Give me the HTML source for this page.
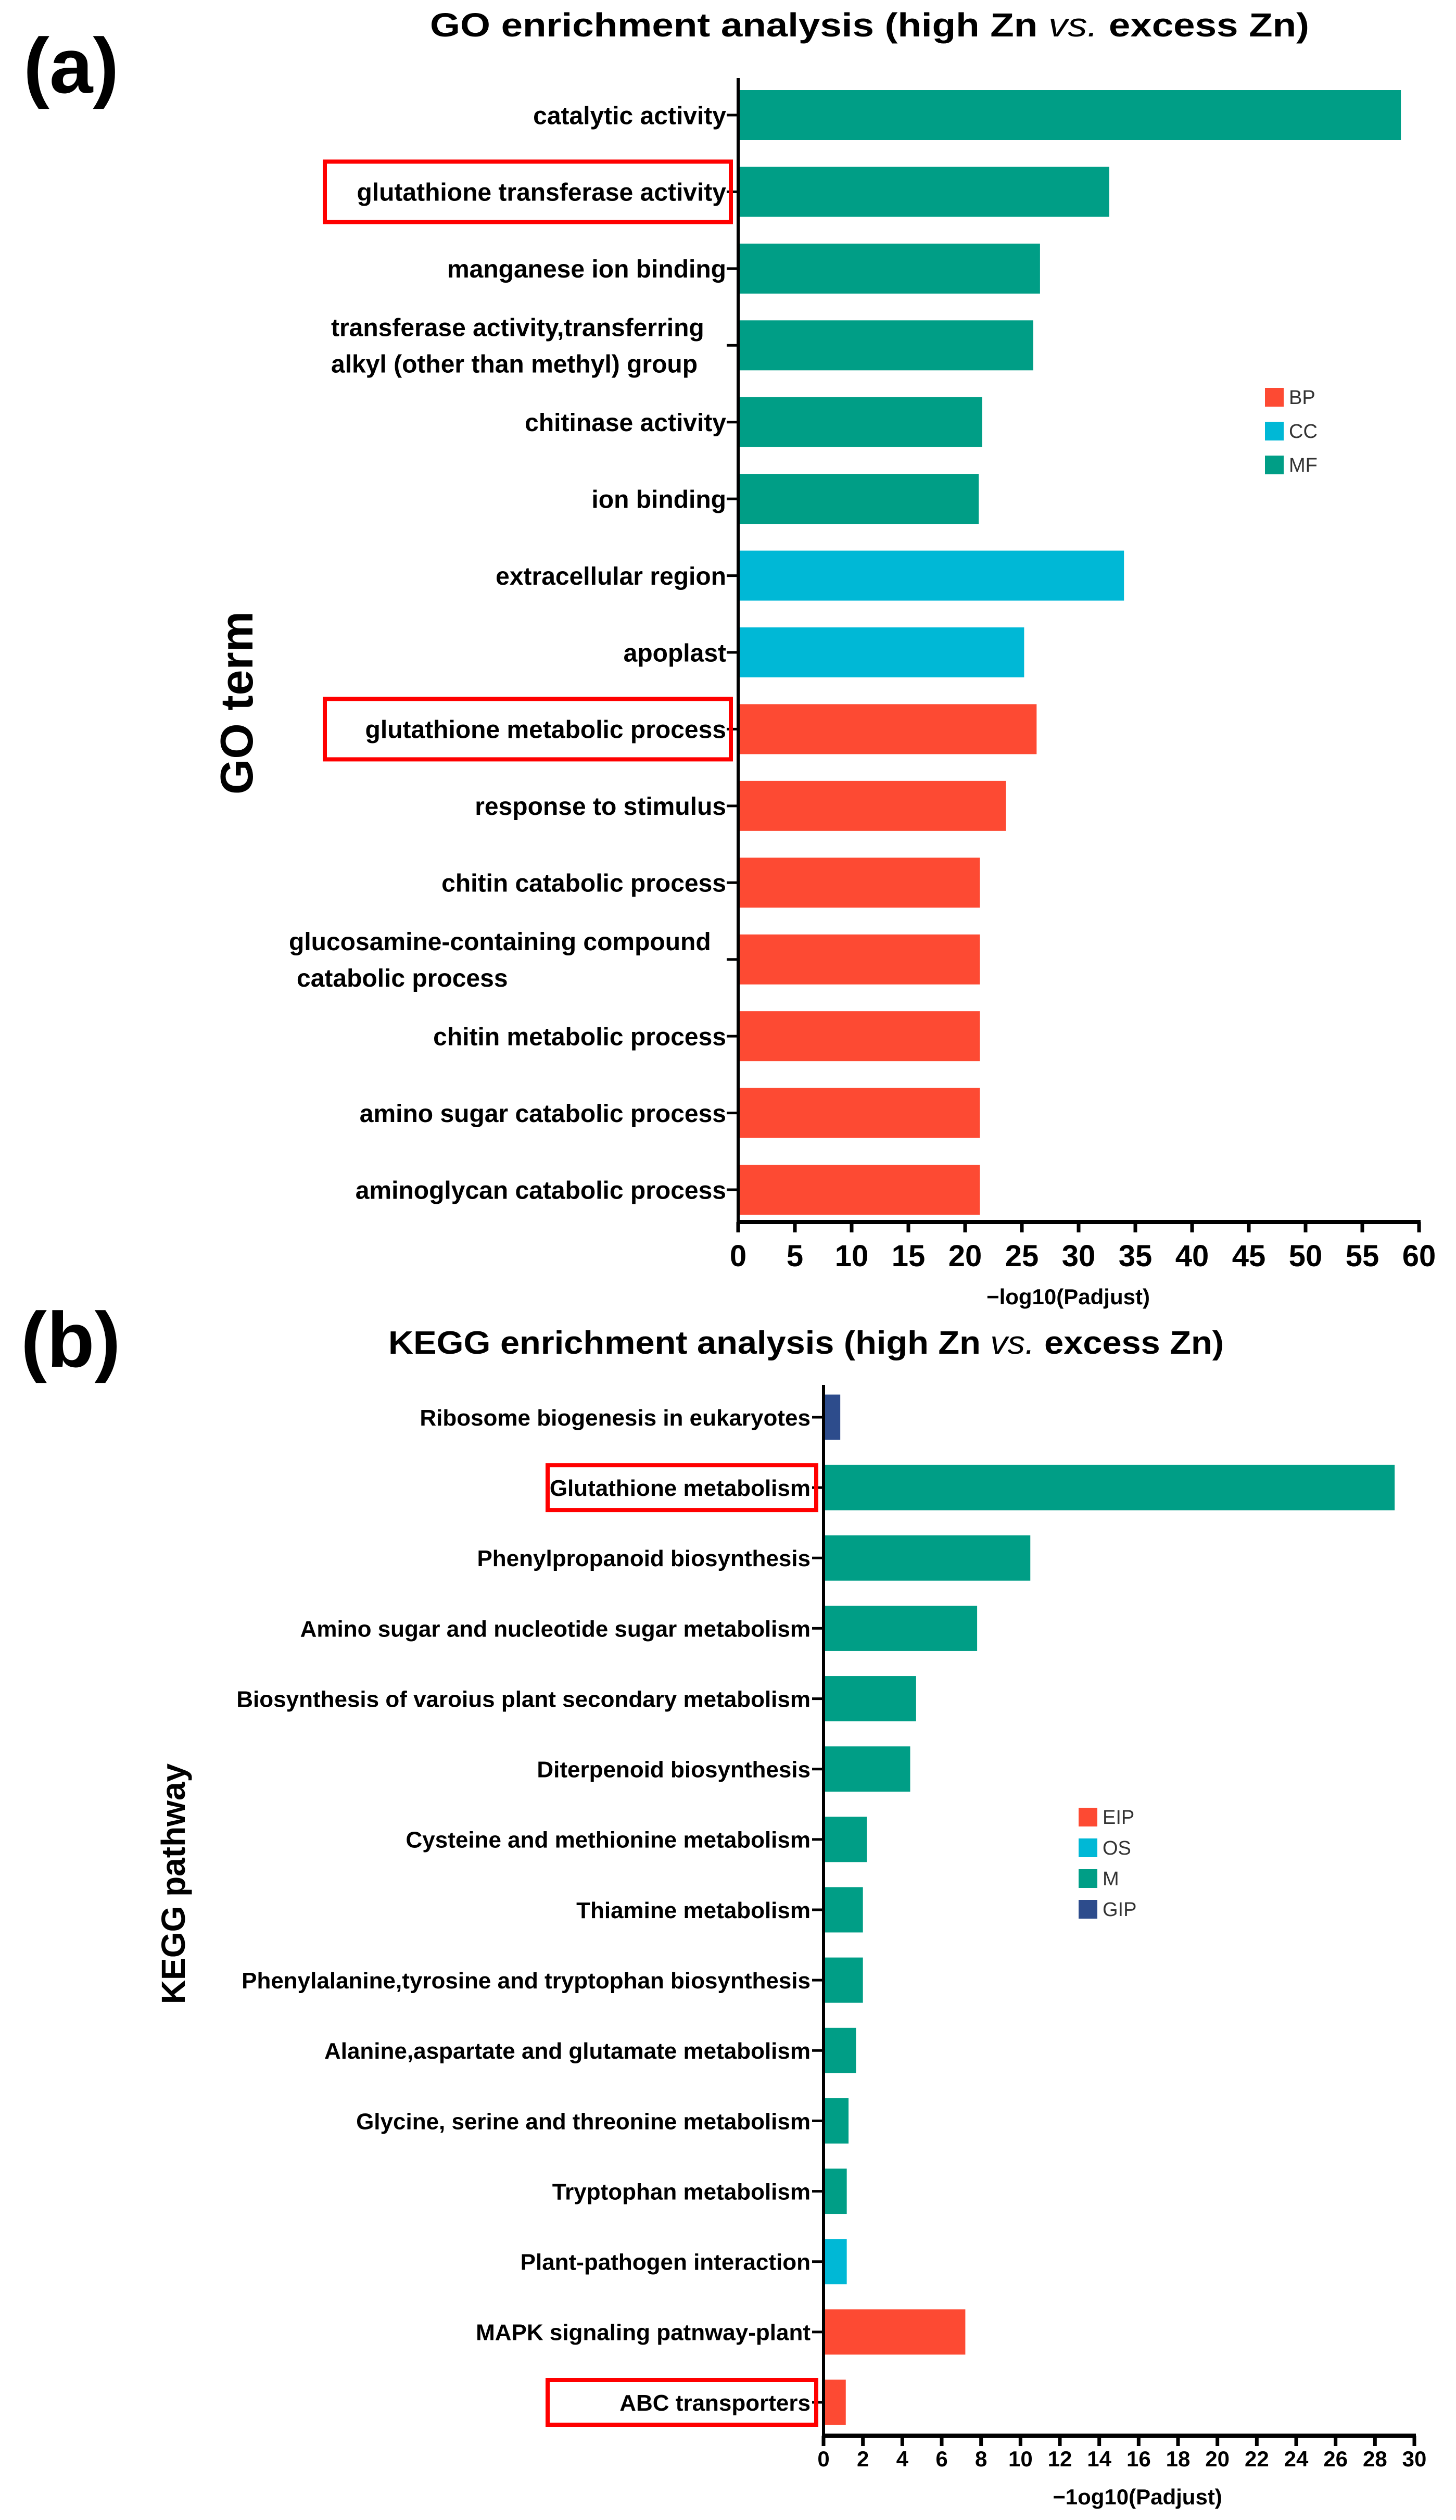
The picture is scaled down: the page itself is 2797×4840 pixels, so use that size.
<!DOCTYPE html>
<html><head><meta charset="utf-8"><style>
html,body{margin:0;padding:0;background:#fff;}
svg{display:block;font-family:"Liberation Sans",Arial,sans-serif;}
</style></head><body>
<svg id="fig" width="2797" height="4840" viewBox="0 0 2797 4840" xmlns="http://www.w3.org/2000/svg">
<text x="45" y="178" font-size="150" font-weight="bold">(a)</text>
<text x="826" y="70" font-size="64" font-weight="bold" textLength="1689" lengthAdjust="spacingAndGlyphs">GO enrichment analysis (high Zn <tspan font-style="italic" font-weight="normal">vs.</tspan> excess Zn)</text>
<text transform="translate(485,1350) rotate(-90)" text-anchor="middle" font-size="88" font-weight="bold">GO term</text>
<text x="2052" y="2505" text-anchor="middle" font-size="42" font-weight="bold">−log10(Padjust)</text>

<text x="40" y="2625" font-size="150" font-weight="bold">(b)</text>
<text x="746" y="2600" font-size="62" font-weight="bold" textLength="1605" lengthAdjust="spacingAndGlyphs">KEGG enrichment analysis  (high Zn <tspan font-style="italic" font-weight="normal">vs.</tspan> excess Zn)</text>
<text transform="translate(355,3618) rotate(-90)" text-anchor="middle" font-size="64" font-weight="bold">KEGG pathway</text>
<text x="2185" y="4810" text-anchor="middle" font-size="42" font-weight="bold">−1og10(Padjust)</text>
<g id="ga"></g><g id="gb"></g>
</svg>
<script>
// ---- Panel A data ----
const goTerms = ["catalytic activity","glutathione transferase activity","manganese ion binding","transferase activity,transferring|alkyl (other than methyl) group","chitinase activity","ion binding","extracellular region","apoplast","glutathione metabolic process","response to stimulus","chitin catabolic process","glucosamine-containing compound|catabolic process","chitin metabolic process","amino sugar catabolic process","aminoglycan catabolic process"];
const goValues = [58.4,32.7,26.6,26.0,21.5,21.2,34.0,25.2,26.3,23.6,21.3,21.3,21.3,21.3,21.3];
const goCats = ["MF","MF","MF","MF","MF","MF","CC","CC","BP","BP","BP","BP","BP","BP","BP"];
const goTicks = [0,5,10,15,20,25,30,35,40,45,50,55,60];
const goLegend = ["BP","CC","MF"];
const goHighlight = [1,8];
// ---- Panel B data ----
const keggTerms = ["Ribosome biogenesis in eukaryotes","Glutathione metabolism","Phenylpropanoid biosynthesis","Amino sugar and nucleotide sugar metabolism","Biosynthesis of varoius plant secondary metabolism","Diterpenoid biosynthesis","Cysteine and methionine metabolism","Thiamine metabolism","Phenylalanine,tyrosine and tryptophan biosynthesis","Alanine,aspartate and glutamate metabolism","Glycine, serine and threonine metabolism","Tryptophan metabolism","Plant-pathogen interaction","MAPK signaling patnway-plant","ABC transporters"];
const keggValues = [0.85,29.0,10.5,7.8,4.7,4.4,2.2,2.0,2.0,1.65,1.27,1.18,1.18,7.2,1.13];
const keggCats = ["GIP","M","M","M","M","M","M","M","M","M","M","M","OS","EIP","EIP"];
const keggTicks = [0,2,4,6,8,10,12,14,16,18,20,22,24,26,28,30];
const keggLegend = ["EIP","OS","M","GIP"];
const keggHighlight = [1,14];

const colors = {BP:"#fd4a33",EIP:"#fd4a33",CC:"#00b8d6",OS:"#00b8d6",MF:"#009e86",M:"#009e86",GIP:"#2d4c8c"};
const NS = "http://www.w3.org/2000/svg";
function mk(parent, tag, attrs, txt){
  const e = document.createElementNS(NS, tag);
  for (const k in attrs) e.setAttribute(k, attrs[k]);
  if (txt !== undefined) e.textContent = txt;
  parent.appendChild(e); return e;
}

function drawPanel(g, cfg, terms, values, cats, ticks, legend, highlight, prefix){
  const xs = v => cfg.x0 + (v - ticks[0]) / (ticks[ticks.length-1] - ticks[0]) * (cfg.x1 - cfg.x0);
  const ys = i => cfg.c0 + i * (cfg.cN - cfg.c0) / (terms.length - 1);
  values.forEach((v,i)=>{
    const r = mk(g,"rect",{x:xs(0),y:ys(i)-cfg.bh/2,width:xs(v)-xs(0),height:cfg.bh,fill:colors[cats[i]]});
    
    
  });
  const ya = mk(g,"line",{x1:xs(0),y1:cfg.top,x2:xs(0),y2:cfg.bot,stroke:"#000","stroke-width":6});
  
  
  const xa = mk(g,"line",{x1:xs(0)-3,y1:cfg.bot,x2:cfg.x1+3,y2:cfg.bot,stroke:"#000","stroke-width":8});
  
  
  ticks.forEach(t=>{
    mk(g,"line",{x1:xs(t),y1:cfg.bot,x2:xs(t),y2:cfg.bot+20,stroke:"#000","stroke-width":7});
    const tl = mk(g,"text",{x:xs(t),y:cfg.tickY,"text-anchor":"middle","font-size":cfg.tfs,"font-weight":"bold"},String(t));
    
    
  });
  terms.forEach((t,i)=>{
    mk(g,"line",{x1:xs(0)-22,y1:ys(i),x2:xs(0),y2:ys(i),stroke:"#000","stroke-width":5});
    const lines = t.split("|");
    const tx = mk(g,"text",{"text-anchor":lines.length>1?"start":"end","font-size":cfg.lfs,"font-weight":"bold"});
    
    
    if (lines.length === 1){
      tx.setAttribute("x", cfg.lx); tx.setAttribute("y", ys(i)+cfg.lfs*0.36);
      tx.textContent = t;
    } else {
      lines.forEach((l,k)=>{
        mk(tx,"tspan",{x:cfg.lx - 760,y:ys(i)+cfg.lfs*0.36+(k-0.5)*70},l);
      });
    }
  });
  highlight.forEach(i=>{
    const b = mk(g,"rect",{x:cfg.hx0,y:ys(i)-cfg.hh/2,width:cfg.hx1-cfg.hx0,height:cfg.hh,fill:"none",stroke:"#ff0000","stroke-width":cfg.hs});
    
    
  });
  legend.forEach((c,k)=>{
    const cy = cfg.legY + k*cfg.legDy;
    const s = mk(g,"rect",{x:cfg.legX,y:cy-18,width:36,height:36,fill:colors[c]});
    
    
    const lt = mk(g,"text",{x:cfg.legX+46,y:cy+13,"font-size":38,fill:"#333"},c);
    
    
  });
}

drawPanel(document.getElementById("ga"),
  {x0:1418,x1:2726,top:150,bot:2347,c0:221,cN:2285,bh:96,tickY:2432,tfs:58,lfs:48,lx:1395,
   hx0:624,hx1:1404,hh:116,hs:8,legX:2430,legY:763,legDy:65},
  goTerms, goValues, goCats, goTicks, goLegend, goHighlight, "go");
drawPanel(document.getElementById("gb"),
  {x0:1582,x1:2717,top:2660,bot:4678,c0:2722,cN:4614,bh:87,tickY:4737,tfs:42,lfs:44,lx:1557,
   hx0:1052,hx1:1568,hh:86,hs:8,legX:2072,legY:3490,legDy:59},
  keggTerms, keggValues, keggCats, keggTicks, keggLegend, keggHighlight, "kegg");
(function(){
  const ts = document.querySelectorAll("#ga tspan");
  ts[0].setAttribute("x", 636); ts[1].setAttribute("x", 636);
  ts[2].setAttribute("x", 555); ts[3].setAttribute("x", 570);
})();
</script>
</body></html>
